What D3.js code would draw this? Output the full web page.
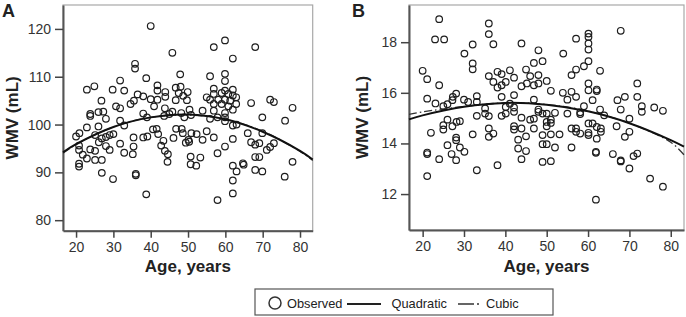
<!DOCTYPE html>
<html>
<head>
<meta charset="utf-8">
<script src="https://cdn.jsdelivr.net/npm/d3@7"></script>
<style>
  body { margin: 0; background: #fff; }
  svg text { font-family: "Liberation Sans", Arial, sans-serif; }
</style>
</head>
<body>
<svg id="chart" width="686" height="317"></svg>
<script>
// observed points, [age, WMV]
const obsA = [
  [40,120.6],[45.8,115.0],[35.8,112.7],[35.8,111.7],[38.8,109.7],[31.8,109.2],[47.9,110.5],
  [22.9,107.3],[24.9,108.0],[29.8,107.3],[32.9,107.1],[41.8,108.2],[41.8,107.1],[43.9,106.8],[46.7,107.7],[48,107.9],[49.9,106.8],[47.5,106.6],[36.5,106.3],[38,105.9],[43.9,105.8],[40,105.3],[41.8,105.2],[46.7,105.1],[48.7,106.0],[49.7,105.1],
  [26.8,105.0],[34.6,104.3],[30.7,103.8],[31.8,103.4],[35.5,105.0],[40.9,103.8],[43.8,103.4],[45.8,102.7],[48.2,102.4],[50.4,103.1],[50.8,102.0],[45.0,102.2],[49.0,101.5],
  [23.8,102.2],[23.8,101.8],[26,102.6],[27.3,102.7],[28,101.2],[38,102.3],[39,101.5],[43.6,101.8],
  [31.8,100.8],[32.9,99.8],[26,99.6],[22.9,99.4],[20,97.5],[20.9,98.2],[25.1,97.8],[26.9,97.1],[28,97.4],[29,97.8],[30.0,98.0],
  [40.6,99.0],[41.6,99.1],[42.0,98.0],[39.1,97.5],[38,97.3],[35.4,97.3],[46.8,99.1],[48.3,99.1],[48.6,98.2],[50.9,98.2],[50.1,96.8],[52.3,98.0],[46.1,97.2],
  [56.9,116.2],[59.9,117.6],[68.0,116.2],[62.0,113.8],[55.9,110.1],[59.9,110.6],[59.9,109.1],[56.9,107.5],[59.9,107.1],[62.0,107.3],[56.9,106.4],[59.0,106.6],[60.8,106.4],[62.0,106.1],[62.9,105.7],[55.0,105.7],[55.9,105.2],[58.1,105.2],[59.9,105.2],[61.3,105.0],[56.9,104.3],[59.0,104.3],[62.9,104.3],[60.8,103.8],[62.0,103.1],[56.9,102.9],[59.9,102.4],[53.9,102.9],[55.9,101.2],[57.9,101.5],[59.9,101.5],[59.9,100.7],[62.0,99.8],[63.0,100.0],[55.0,98.6],[56.9,97.3],[53.9,96.8],[62.0,97.0],[66.0,98.2],[69.9,98.2],[69.9,101.5],[72.0,105.2],[73.0,104.7],[66.9,104.5],[78.0,103.5],[76.0,100.8],
  [20.8,95.6],[20.8,94.7],[21.8,93.7],[22.9,92.9],[23.8,94.8],[25.1,94.5],[25.1,92.6],[20.8,91.8],[20.8,91.2],[26.9,92.6],[26.9,89.9],[26.1,96.3],[28,95.5],[29,94.7],[31.8,96.0],[32.9,94.1],[35.2,93.8],[35.4,95.4],[29.9,88.6],[36,89.4],[36,89.7],[38.8,85.4],[42.8,95.6],[43.8,94.5],[44.6,93.8],[44.5,92.2],[49.4,96.2],[50.7,93.3],[50.7,91.7],[52.2,91.4],[53.3,93.1],[43.4,96.6],[50.3,96.4],
  [57.9,94.0],[59.9,95.4],[62.0,91.4],[63.0,90.2],[64.7,91.9],[64.9,91.6],[62.0,88.3],[62.0,85.6],[57.9,84.2],[66.9,96.3],[68.0,95.8],[69.1,96.1],[68.0,93.2],[69.1,93.2],[68.0,90.5],[69.9,90.2],[71.1,94.7],[72.0,95.3],[73.0,96.1],[75.9,89.1],[78.0,92.2]
];

const obsB = [
  [24.0,18.91],[23.0,18.11],[25.2,18.11],[36.0,18.74],[36.0,18.32],[37.1,17.92],[32.1,17.91],[30.1,17.55],[32.1,17.16],[32.1,16.93],
  [20.0,16.87],[21.1,16.54],[24.0,16.30],[21.1,15.77],[23.1,15.58],[25.0,15.47],[26.0,15.55],[27.3,15.84],[28.1,15.97],[27.2,15.71],[30.0,15.73],[31.0,15.64],[33.1,15.87],[33.1,15.64],
  [36.0,16.66],[37.1,16.43],[38.1,16.83],[39.1,16.74],[41.1,16.89],[42.1,16.60],[40.1,16.43],[39.1,16.30],[38.1,16.21],[39.1,15.84],[42.1,15.91],
  [35.1,15.38],[35.1,15.18],[36.0,15.08],[33.1,15.09],[39.1,15.09],[40.1,15.44],[41.1,15.57],[42.1,15.42],[42.1,15.25],[40.1,15.18],
  [26.0,14.94],[25.0,14.72],[27.2,14.68],[28.2,14.85],[29.0,14.88],[25.0,14.55],[22.0,14.42],[32.1,14.36],[36.0,14.59],[36.0,14.26],[37.1,14.39],[42.1,14.68],[42.1,14.55],[28.1,14.23],[43.1,14.15],
  [21.1,13.64],[21.1,13.58],[24.0,13.38],[26.0,13.93],[27.0,13.58],[28.1,13.34],[29.0,13.84],[30.1,13.67],[28.1,14.13],[21.1,12.71],[33.1,12.94],[38.1,13.14],[43.1,13.80],
  [43.9,17.95],[48.0,17.68],[54.0,17.55],[57.1,18.14],[60.1,18.34],[60.1,18.21],[60.1,17.95],[60.1,17.71],[60.1,17.25],[67.9,18.45],[46.9,17.18],[49.0,17.25],[45.0,16.92],[46.0,16.66],[48.0,16.70],[50.0,16.47],[57.1,16.92],[59.0,17.05],[56.0,16.70],[62.9,16.87],
  [43.9,16.26],[45.2,16.37],[46.9,16.30],[48.0,16.37],[51.0,16.08],[53.9,16.00],[56.0,16.04],[55.0,15.73],[57.1,15.84],[60.1,16.37],[60.1,16.10],[62.1,16.13],[62.1,16.07],[61.1,15.71],[46.9,15.73],[67.1,15.71],[68.9,15.84],[71.9,16.37],[71.9,15.84],[73.0,15.47],[73.0,15.25],[76.0,15.42],[78.1,15.29],[67.9,15.34],[70.0,14.98],[62.9,15.34],[63.9,15.11],[59.0,15.47],[58.1,15.23],[58.1,15.16],[55.0,15.18],[52.0,15.21],[50.0,15.18],[48.0,15.34],[48.0,15.25],[49.0,15.18],[46.0,14.94],[46.9,14.98],[43.9,15.02],[51.0,14.94],[51.0,14.81],[50.0,14.85],[50.0,14.68],[57.1,14.59],[57.1,14.46],[58.1,14.39],[60.1,14.79],[60.1,14.42],[60.1,14.33],[61.1,14.79],[62.1,14.65],[63.1,14.59],[63.1,14.46],[62.1,14.19],[53.1,14.36],[51.0,14.36],[49.0,14.33],[46.9,14.59],[43.9,14.59],[45.0,14.28],[66.9,14.68],[68.9,14.26],[70.0,14.46],[56.0,14.59],
  [45.0,13.70],[43.9,13.38],[49.0,13.97],[50.0,13.97],[49.0,13.27],[51.0,13.30],[52.0,13.84],[56.0,13.84],[61.9,13.67],[61.9,13.63],[61.9,11.78],[66.0,13.58],[67.9,13.33],[67.9,13.29],[70.0,13.01],[71.0,13.50],[71.9,13.60],[75.0,12.61],[78.1,12.29]
];

// fitted curves
const fitAgesA = [16.5, 20, 30, 40, 50, 60, 70, 80, 83.4];
const quadA = [94.2, 95.9, 99.5, 101.5, 102.1, 101.1, 98.5, 94.5, 92.7];
const cubicA = [94.0, 95.8, 99.5, 101.5, 102.0, 101.1, 98.6, 94.4, 92.5];
const fitAgesB = [16.7, 20, 30, 40, 50, 60, 70, 80, 83.2];
const quadB = [14.95, 15.11, 15.45, 15.6, 15.53, 15.27, 14.8, 14.13, 13.87];
const cubicB = [15.15, 15.25, 15.46, 15.6, 15.54, 15.28, 14.8, 14.05, 13.55];

const ageTicks = [20, 30, 40, 50, 60, 70, 80];
const ticksA = [80, 90, 100, 110, 120];
const ticksB = [12, 14, 16, 18];

const svg = d3.select("svg#chart");

function panel(opt) {
  const x = d3.scaleLinear().domain(opt.xDomain).range([opt.left, opt.right]);
  const y = d3.scaleLinear().domain(opt.yDomain).range([opt.bottom, opt.top]);
  const g = svg.append("g");

  // frame
  g.append("rect")
    .attr("x", opt.left).attr("y", opt.top)
    .attr("width", opt.right - opt.left).attr("height", opt.bottom - opt.top)
    .attr("fill", "none").attr("stroke", "#a8a8a8").attr("stroke-width", 1.2);

  const leftAxis = d3.axisLeft(y).tickValues(opt.yTicks).tickSize(8).tickPadding(4).tickSizeOuter(0);
  const bottomAxis = d3.axisBottom(x).tickValues(ageTicks).tickSize(7).tickPadding(4).tickSizeOuter(0);

  const ya = g.append("g").attr("transform", `translate(${opt.left},0)`).call(leftAxis);
  const xa = g.append("g").attr("transform", `translate(0,${opt.bottom})`).call(bottomAxis);
  [ya, xa].forEach(a => {
    a.select(".domain").attr("stroke", "#555").attr("stroke-width", 2);
    a.selectAll(".tick line").attr("stroke", "#444").attr("stroke-width", 1.5);
    a.selectAll(".tick text").attr("fill", "#333").style("font-size", "14px")
      .style("font-family", "'Liberation Sans', Arial, sans-serif");
  });

  // points
  g.append("g").selectAll("circle")
    .data(opt.obs)
    .join("circle")
    .attr("cx", d => x(d[0]))
    .attr("cy", d => y(d[1]))
    .attr("r", 3.3)
    .attr("fill", "none")
    .attr("stroke", "#1e1e1e")
    .attr("stroke-width", 1.2);

  const line = d3.line()
    .x(d => x(d[0]))
    .y(d => y(d[1]))
    .curve(d3.curveCatmullRom);

  g.append("path")
    .datum(opt.fitAges.map((a, i) => [a, opt.cubic[i]]))
    .attr("fill", "none").attr("stroke", "#333").attr("stroke-width", 1.3)
    .attr("stroke-dasharray", "8,3,1.5,3")
    .attr("d", line);
  g.append("path")
    .datum(opt.fitAges.map((a, i) => [a, opt.quad[i]]))
    .attr("fill", "none").attr("stroke", "#111").attr("stroke-width", 2)
    .attr("d", line);

  // titles
  g.append("text")
    .attr("transform", `translate(${opt.yTitleX},${(opt.top + opt.bottom) / 2}) rotate(-90)`)
    .attr("text-anchor", "middle")
    .style("font-size", "17px").style("font-weight", "bold").attr("fill", "#222")
    .text("WMV (mL)");
  g.append("text")
    .attr("x", (opt.left + opt.right) / 2).attr("y", 272)
    .attr("text-anchor", "middle")
    .style("font-size", "17px").style("font-weight", "bold").attr("fill", "#222")
    .text("Age, years");
  g.append("text")
    .attr("x", opt.letterX).attr("y", 17)
    .style("font-size", "18px").style("font-weight", "bold").attr("fill", "#222")
    .text(opt.letter);
}

panel({
  letter: "A", letterX: 2, yTitleX: 18,
  left: 63, right: 312.7, top: 5, bottom: 230.7,
  xDomain: [16.5, 83.4], yDomain: [77.8, 125], yTicks: ticksA,
  obs: obsA, fitAges: fitAgesA, quad: quadA, cubic: cubicA
});
panel({
  letter: "B", letterX: 352, yTitleX: 368,
  left: 409, right: 684, top: 5, bottom: 230,
  xDomain: [16.7, 83.2], yDomain: [10.58, 19.47], yTicks: ticksB,
  obs: obsB, fitAges: fitAgesB, quad: quadB, cubic: cubicB
});

// legend
const legend = svg.append("g");
legend.append("rect")
  .attr("x", 255).attr("y", 289).attr("width", 298).attr("height", 26)
  .attr("fill", "#fff").attr("stroke", "#555").attr("stroke-width", 1.2);
legend.append("circle")
  .attr("cx", 275).attr("cy", 303).attr("r", 6)
  .attr("fill", "none").attr("stroke", "#333").attr("stroke-width", 1.5);
legend.append("line")
  .attr("x1", 347).attr("x2", 381).attr("y1", 304).attr("y2", 304)
  .attr("stroke", "#222").attr("stroke-width", 2);
legend.append("line")
  .attr("x1", 458).attr("x2", 480).attr("y1", 304).attr("y2", 304)
  .attr("stroke", "#333").attr("stroke-width", 1.5).attr("stroke-dasharray", "16,3,2,3");
const legendItems = [["Observed", 287], ["Quadratic", 391.5], ["Cubic", 486]];
legend.selectAll("text.item")
  .data(legendItems)
  .join("text")
  .attr("class", "item")
  .attr("x", d => d[1]).attr("y", 308)
  .style("font-size", "12.8px").attr("fill", "#222")
  .text(d => d[0]);
</script>
</body>
</html>
